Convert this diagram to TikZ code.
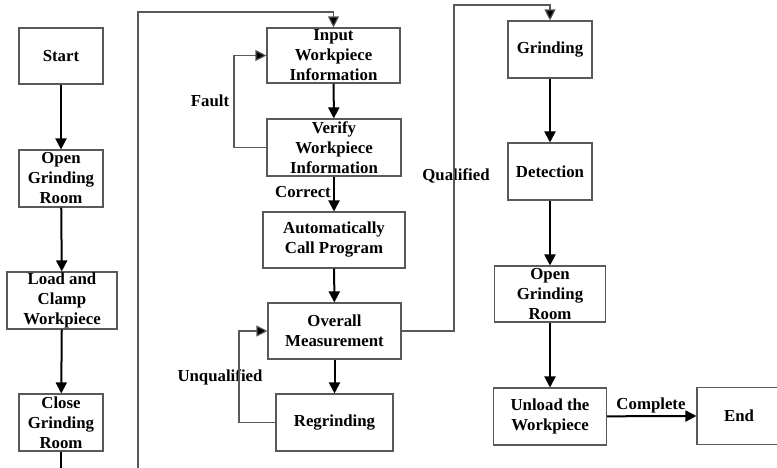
\documentclass[tikz,border=0pt]{standalone}
\usepackage{fontspec}
\setmainfont{Liberation Serif}
\usetikzlibrary{arrows.meta}
\begin{document}
\begin{tikzpicture}[x=1pt,y=-1pt,
  box/.style={draw=black!65,line width=1.1pt,align=center,inner sep=0pt,
    font=\fontsize{16.8}{20}\selectfont\bfseries},
  lab/.style={inner sep=0pt,font=\fontsize{16.8}{20}\selectfont\bfseries},
  thick arrow/.style={draw=black,line width=2pt,-{Triangle[length=11pt,width=11pt]}},
  thin arrow/.style={draw=black!65,line width=1.1pt,-{Triangle[length=11pt,width=11pt,fill=black]}},
  thin line/.style={draw=black!65,line width=1.1pt}]
\useasboundingbox (0,0) rectangle (777,467);
\node[box,minimum width=84pt,minimum height=56pt] (start) at (61,56) {Start};
\node[box,minimum width=84pt,minimum height=57pt] (open1) at (61,178.5) {Open\\Grinding\\Room};
\node[box,minimum width=110pt,minimum height=57pt] (load) at (62,300.5) {Load and\\Clamp\\Workpiece};
\node[box,minimum width=84pt,minimum height=57pt] (close) at (61,422.5) {Close\\Grinding\\Room};
\node[box,minimum width=133pt,minimum height=55pt] (input) at (333.5,55.5) {Input\\Workpiece\\Information};
\node[box,minimum width=134pt,minimum height=57pt] (verify) at (334,147.5) {Verify\\Workpiece\\Information};
\node[box,minimum width=142pt,minimum height=56pt] (auto) at (334,240) {Automatically\\Call Program};
\node[box,minimum width=133pt,minimum height=56pt] (overall) at (334.5,331) {Overall\\Measurement};
\node[box,minimum width=117pt,minimum height=57pt] (regrind) at (334.5,422.5) {Regrinding};
\node[box,minimum width=84pt,minimum height=57pt] (grinding) at (550,49.5) {Grinding};
\node[box,minimum width=84pt,minimum height=57pt] (detect) at (550,171.5) {Detection};
\node[box,minimum width=111pt,minimum height=56pt] (open2) at (550,294) {Open\\Grinding\\Room};
\node[box,minimum width=113pt,minimum height=57pt] (unload) at (550,416.5) {Unload the\\Workpiece};
\node[box,minimum width=120pt,minimum height=57pt] (end) at (757,416) {\mbox{\makebox[36pt]{End}\hspace*{36pt}}};

\node[lab] (fault) at (210,101) {Fault};
\node[lab] (correct) at (303,192) {Correct};
\node[lab] (unq) at (220,377) {Unqualified};
\node[lab] (qual) at (456,176) {Qualified};
\node[lab] (complete) at (651,405) {Complete};

\coordinate (c1) at (61,480);
\coordinate (c2) at (138,480);
\coordinate (c3) at (138,12);
\coordinate (f1) at (234,147.5);
\coordinate (u1) at (239,422.5);
\coordinate (q1) at (454,331);
\coordinate (q2) at (454,5);

\draw[thick arrow] (start) -- (open1);
\draw[thick arrow] (open1) -- (load);
\draw[thick arrow] (load) -- (close);
\draw[draw=black,line width=2pt] (close) -- (c1);
\draw[thin line] (c1) -- (c2);
\draw[thin arrow] (c2) -- (c3) -| (input.north);
\draw[thick arrow] (input) -- (verify);
\draw[thin arrow] (verify.west) -- (f1) |- (input.west);
\draw[thick arrow] (verify) -- (auto);
\draw[thick arrow] (auto) -- (overall);
\draw[thick arrow] (overall) -- (regrind);
\draw[thin arrow] (regrind.west) -- (u1) |- (overall.west);
\draw[thin arrow] (overall.east) -- (q1) -- (q2) -| (grinding.north);
\draw[thick arrow] (grinding) -- (detect);
\draw[thick arrow] (detect) -- (open2);
\draw[thick arrow] (open2) -- (unload);
\draw[thick arrow] (unload) -- (end.west);
\end{tikzpicture}
\end{document}
